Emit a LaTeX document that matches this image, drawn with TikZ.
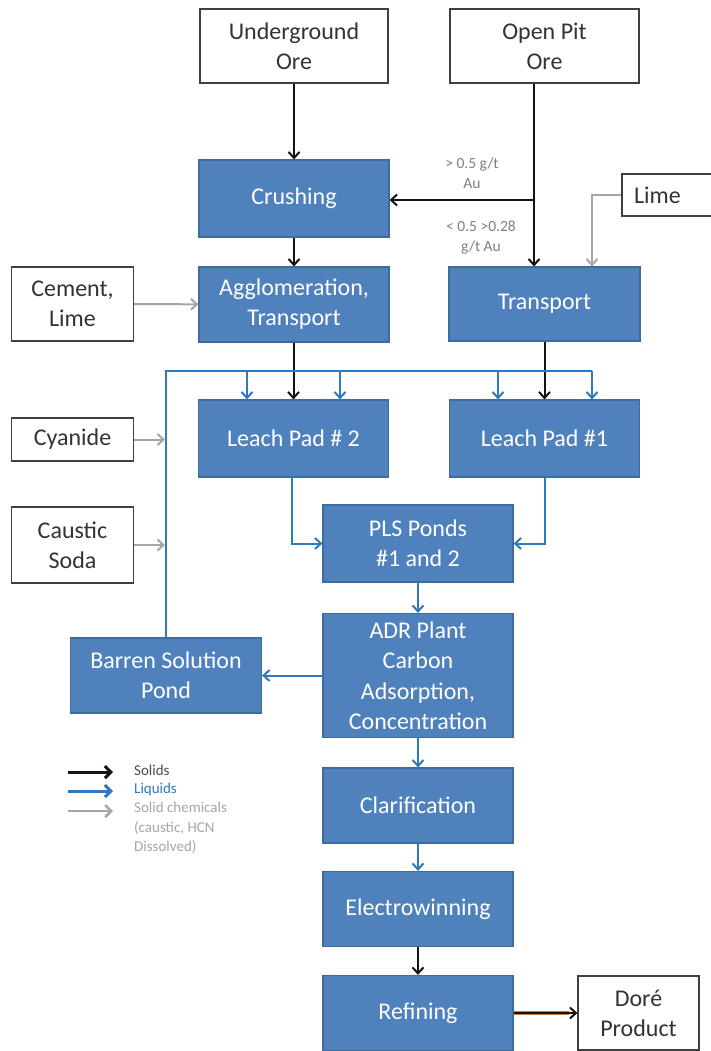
\documentclass[tikz,border=0pt]{standalone}
\usepackage{fontspec}
\setmainfont{Carlito}
\usetikzlibrary{arrows.meta}
\definecolor{bfill}{HTML}{4F81BD}
\definecolor{bbord}{HTML}{3F6C9E}
\definecolor{wbord}{HTML}{404040}
\definecolor{liqc}{HTML}{2E79C2}
\definecolor{chemc}{HTML}{A6A6A6}
\definecolor{solc}{HTML}{141414}
\definecolor{labc}{HTML}{7F7F7F}
\definecolor{orc}{HTML}{C87A3A}
\tikzset{
  bluebox/.style={draw=bbord, fill=bfill, line width=1.2pt, text=white,
    font=\fontsize{24}{30}\selectfont, align=center, inner sep=0pt},
  whitebox/.style={draw=wbord, fill=white, line width=1.2pt, text=black!80,
    font=\fontsize{24}{30}\selectfont, align=center, inner sep=0pt},
  tipbarb/.style={-{Straight Barb[length=6pt,width=11pt]}},
  solidarr/.style={draw=solc, line width=2pt, tipbarb},
  liqarr/.style={draw=liqc, line width=2pt, tipbarb},
  liqline/.style={draw=liqc, line width=2pt},
  chemarr/.style={draw=chemc, line width=2pt, tipbarb},
  lab/.style={text=labc, font=\fontsize{15.5}{20}\selectfont, align=center, inner sep=0pt},
  legtxt/.style={font=\fontsize{15}{19.5}\selectfont, align=left, inner sep=0pt, anchor=west},
  legarr/.style={line width=3pt, -{Straight Barb[length=6pt,width=12pt]}}
}
\begin{document}
\begin{tikzpicture}[x=1pt,y=-1pt]
\useasboundingbox[fill=white] (0,0) rectangle (711,1051);

% white input boxes
\node[whitebox, minimum width=188pt, minimum height=74pt] (ug) at (294,46) {Underground\\Ore};
\node[whitebox, minimum width=189pt, minimum height=74pt] (op) at (544.5,46) {Open Pit\\Ore};
\node[whitebox, minimum width=122pt, minimum height=74pt] (cem) at (72.5,304) {Cement,\\Lime};
\node[whitebox, minimum width=96pt, minimum height=42pt, text width=72pt, inner xsep=12pt, align=left] (lime) at (670,195) {Lime};
\node[whitebox, minimum width=122pt, minimum height=43pt] (cy) at (72.5,439.5) {Cyanide};
\node[whitebox, minimum width=122pt, minimum height=76pt] (cs) at (72.5,545) {Caustic\\Soda};
\node[whitebox, minimum width=121pt, minimum height=74pt] (dore) at (638.5,1013) {Doré\\Product};

% blue process boxes
\node[bluebox, minimum width=190pt, minimum height=77pt] (crush) at (294,198.5) {Crushing};
\node[bluebox, minimum width=190pt, minimum height=75pt] (agg) at (294,304.5) {Agglomeration,\\Transport};
\node[bluebox, minimum width=191pt, minimum height=74pt] (trans) at (544.5,304) {Transport};
\node[bluebox, minimum width=190pt, minimum height=77pt] (lp2) at (293.5,438.5) {Leach Pad \# 2};
\node[bluebox, minimum width=190pt, minimum height=77pt] (lp1) at (544.5,438.5) {Leach Pad \#1};
\node[bluebox, minimum width=190pt, minimum height=77pt] (pls) at (418,543.5) {PLS Ponds\\\#1 and 2};
\node[bluebox, minimum width=190pt, minimum height=124pt, font=\fontsize{24}{30.5}\selectfont] (adr) at (418,675.5) {ADR Plant\\Carbon\\Adsorption,\\Concentration};
\node[bluebox, minimum width=191pt, minimum height=75pt] (bar) at (166,675.5) {Barren Solution\\Pond};
\node[bluebox, minimum width=190pt, minimum height=75pt] (clar) at (418,805.5) {Clarification};
\node[bluebox, minimum width=190pt, minimum height=75pt] (elec) at (418,909) {Electrowinning};
\node[bluebox, minimum width=190pt, minimum height=75pt] (ref) at (418,1013) {Refining};

% ore routing
\coordinate (opx) at (534,0);
\coordinate (br) at (534,200);
\draw[solidarr] (ug) -- (crush);
\draw[solidarr] (op.south -| opx) -- (trans.north -| opx);
\draw[solidarr] (br) -- (crush.east |- br);
\node[lab] (l1) at (472,173) {> 0.5 g/t\\Au};
\node[lab] (l2) at (481,237.5) {< 0.5 >0.28\\g/t Au};
\coordinate (limex) at (592,0);
\draw[chemarr] (lime.west) -| (trans.north -| limex);
\draw[solidarr] (crush) -- (agg);
\draw[chemarr] (cem) -- (agg);
\draw[solidarr] (agg.south -| lp2) -- (lp2);
\draw[solidarr] (trans) -- (lp1);

% barren solution loop
\coordinate (d1) at (247,371);
\coordinate (d2) at (340,371);
\coordinate (d3) at (498,371);
\coordinate (d4) at (592,371);
\draw[liqline] (bar.north) |- (d4);
\draw[liqarr] (d1) -- (lp2.north -| d1);
\draw[liqarr] (d2) -- (lp2.north -| d2);
\draw[liqarr] (d3) -- (lp1.north -| d3);
\draw[liqarr] (d4) -- (lp1.north -| d4);
\coordinate (loopx) at (165,0);
\draw[chemarr] (cy.east) -- (cy.east -| loopx);
\draw[chemarr] (cs.east) -- (cs.east -| loopx);

% liquids
\coordinate (lp2x) at (292,0);
\draw[liqarr] (lp2.south -| lp2x) |- (pls.west);
\draw[liqarr] (lp1.south) |- (pls.east);
\draw[liqarr] (pls) -- (adr);
\draw[liqarr] (adr.west) -- (bar.east);
\draw[liqarr] (adr) -- (clar);
\draw[liqarr] (clar) -- (elec);
\draw[solidarr] (elec) -- (ref);
\draw[draw=orc, line width=3.6pt] (ref.east) -- ([xshift=-8pt]dore.west);
\draw[solidarr] (ref.east) -- (dore.west);

% legend
\coordinate (g1a) at (68,772);
\coordinate (g1b) at (113,772);
\coordinate (g2a) at (68,791);
\coordinate (g2b) at (113,791);
\coordinate (g3a) at (68,811);
\coordinate (g3b) at (113,811);
\draw[legarr, draw=solc] (g1a) -- (g1b);
\draw[legarr, draw=liqc] (g2a) -- (g2b);
\draw[legarr, draw=chemc, line width=2.5pt] (g3a) -- (g3b);
\node[legtxt, text=black!70] (t1) at (134,770) {Solids};
\node[legtxt, text=liqc] (t2) at (134,789) {Liquids};
\node[legtxt, text=chemc] (t3) at (134,828) {Solid chemicals\\(caustic, HCN\\Dissolved)};
\end{tikzpicture}
\end{document}
